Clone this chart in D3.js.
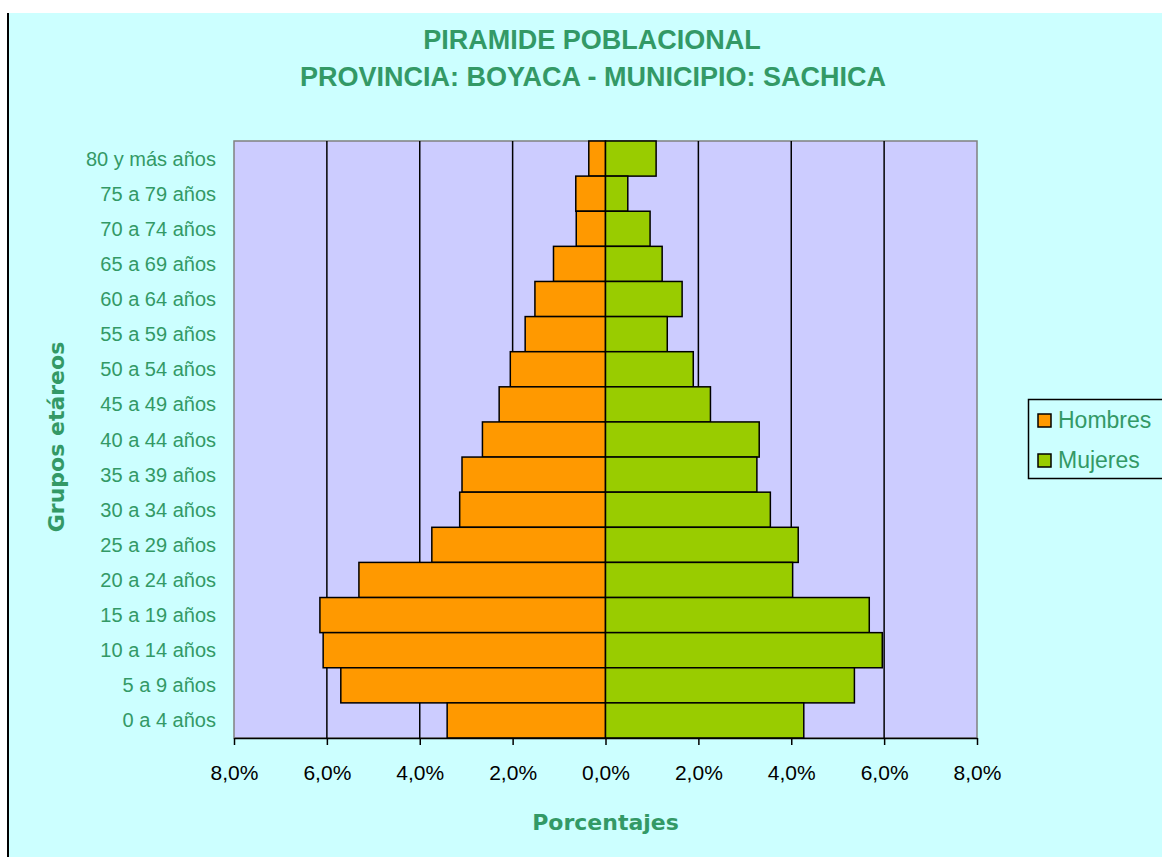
<!DOCTYPE html>
<html>
<head>
<meta charset="utf-8">
<script src="https://cdn.jsdelivr.net/npm/d3@7"></script>
<style>
body{margin:0;background:#fff;}
svg text{font-family:"Liberation Sans",Arial,sans-serif;}
</style>
</head>
<body>
<div id="vis"></div>
<script>
// age groups, oldest first (as drawn top to bottom)
var grupos = ["80 y más años","75 a 79 años","70 a 74 años","65 a 69 años","60 a 64 años","55 a 59 años","50 a 54 años","45 a 49 años","40 a 44 años","35 a 39 años","30 a 34 años","25 a 29 años","20 a 24 años","15 a 19 años","10 a 14 años","5 a 9 años","0 a 4 años"];
// percentages
var hombres = [0.36,0.64,0.63,1.12,1.52,1.73,2.05,2.29,2.65,3.09,3.14,3.74,5.31,6.15,6.08,5.70,3.41];
var mujeres = [1.09,0.48,0.96,1.22,1.65,1.33,1.89,2.26,3.31,3.26,3.55,4.15,4.03,5.68,5.96,5.36,4.27];
var ticks = [-8,-6,-4,-2,0,2,4,6,8];
var series = ["Hombres","Mujeres"];
var colores = {"Hombres":"#FF9900","Mujeres":"#99CC00"};
var verde = "#339966";

var W = 1162, H = 857;
var svg = d3.select("#vis").append("svg").attr("width",W).attr("height",H);

// page background + left border
svg.append("rect").attr("x",9).attr("y",13).attr("width",W).attr("height",H).attr("fill","#CCFFFF");
svg.append("line").attr("x1",8).attr("y1",13).attr("x2",8).attr("y2",H).attr("stroke","#000").attr("stroke-width",2);

// scales
var x = d3.scaleLinear().domain([-8,8]).range([234,977]);
var y = d3.scaleBand().domain(grupos).range([141,738]).padding(0);

// plot area
svg.append("rect").attr("x",x(-8)).attr("y",141).attr("width",x(8)-x(-8)).attr("height",738-141)
    .attr("fill","#CCCCFF").attr("stroke","#808080").attr("stroke-width",1.5);

// grid lines
svg.selectAll("line.grid").data(ticks.filter(function(t){return t!=-8 && t!=8;})).enter().append("line")
    .attr("class","grid")
    .attr("x1",function(d){return x(d);}).attr("x2",function(d){return x(d);})
    .attr("y1",141).attr("y2",738)
    .attr("stroke","#000").attr("stroke-width",1.5);

// bars
var filas = grupos.map(function(g,i){return {g:g,h:hombres[i],m:mujeres[i]};});
svg.selectAll("rect.h").data(filas).enter().append("rect")
    .attr("class","h")
    .attr("x",function(d){return x(-d.h);})
    .attr("y",function(d){return y(d.g);})
    .attr("width",function(d){return x(0)-x(-d.h);})
    .attr("height",y.bandwidth())
    .attr("fill",colores.Hombres).attr("stroke","#000").attr("stroke-width",1.5);
svg.selectAll("rect.m").data(filas).enter().append("rect")
    .attr("class","m")
    .attr("x",x(0))
    .attr("y",function(d){return y(d.g);})
    .attr("width",function(d){return x(d.m)-x(0);})
    .attr("height",y.bandwidth())
    .attr("fill",colores.Mujeres).attr("stroke","#000").attr("stroke-width",1.5);

// x axis
var loc = d3.formatLocale({decimal:",",thousands:".",grouping:[3],currency:["","€"]});
var fmt = loc.format(".1f");
var ax = svg.append("g").attr("transform","translate(0,738)")
    .call(d3.axisBottom(x).tickValues(ticks).tickSize(7).tickSizeOuter(0).tickPadding(20)
        .tickFormat(function(d){return fmt(Math.abs(d))+"%";}));
ax.select(".domain").attr("stroke","#000").attr("stroke-width",1.5);
ax.selectAll(".tick line").attr("stroke","#000").attr("stroke-width",1.5);
ax.selectAll(".tick text").attr("font-size",21).attr("font-family","Liberation Sans, Arial, sans-serif").attr("fill","#000");

// category labels
svg.selectAll("text.cat").data(grupos).enter().append("text")
    .attr("class","cat")
    .attr("x",216)
    .attr("y",function(d){return y(d)+y.bandwidth()/2;})
    .attr("dy","0.35em")
    .attr("text-anchor","end")
    .attr("font-size",20)
    .attr("fill",verde)
    .text(function(d){return d;});

// titles
svg.append("text").attr("x",592).attr("y",49).attr("text-anchor","middle")
    .attr("font-size",27).attr("font-weight","bold").attr("fill",verde).text("PIRAMIDE POBLACIONAL");
svg.append("text").attr("x",593).attr("y",86).attr("text-anchor","middle")
    .attr("font-size",27).attr("font-weight","bold").attr("fill",verde).text("PROVINCIA: BOYACA - MUNICIPIO: SACHICA");
svg.append("text").attr("x",x(0)).attr("y",830).attr("text-anchor","middle")
    .attr("font-size",22).attr("font-weight","bold").attr("fill",verde)
    .style("font-family","DejaVu Sans, Verdana, sans-serif").text("Porcentajes");
svg.append("text").attr("transform","translate(64,437) rotate(-90)").attr("text-anchor","middle")
    .attr("font-size",22).attr("font-weight","bold").attr("fill",verde)
    .style("font-family","DejaVu Sans, Verdana, sans-serif").text("Grupos etáreos");

// legend
var leg = svg.append("g");
leg.append("rect").attr("x",1028.5).attr("y",399.5).attr("width",140).attr("height",79)
    .attr("fill","#CCFFFF").attr("stroke","#000").attr("stroke-width",1.5);
series.forEach(function(s,i){
    leg.append("rect").attr("x",1038).attr("y",414+i*40).attr("width",13).attr("height",13)
        .attr("fill",colores[s]).attr("stroke","#000").attr("stroke-width",1.5);
    leg.append("text").attr("x",1058).attr("y",428+i*40).attr("font-size",23).attr("fill",verde).text(s);
});
</script>
</body>
</html>
